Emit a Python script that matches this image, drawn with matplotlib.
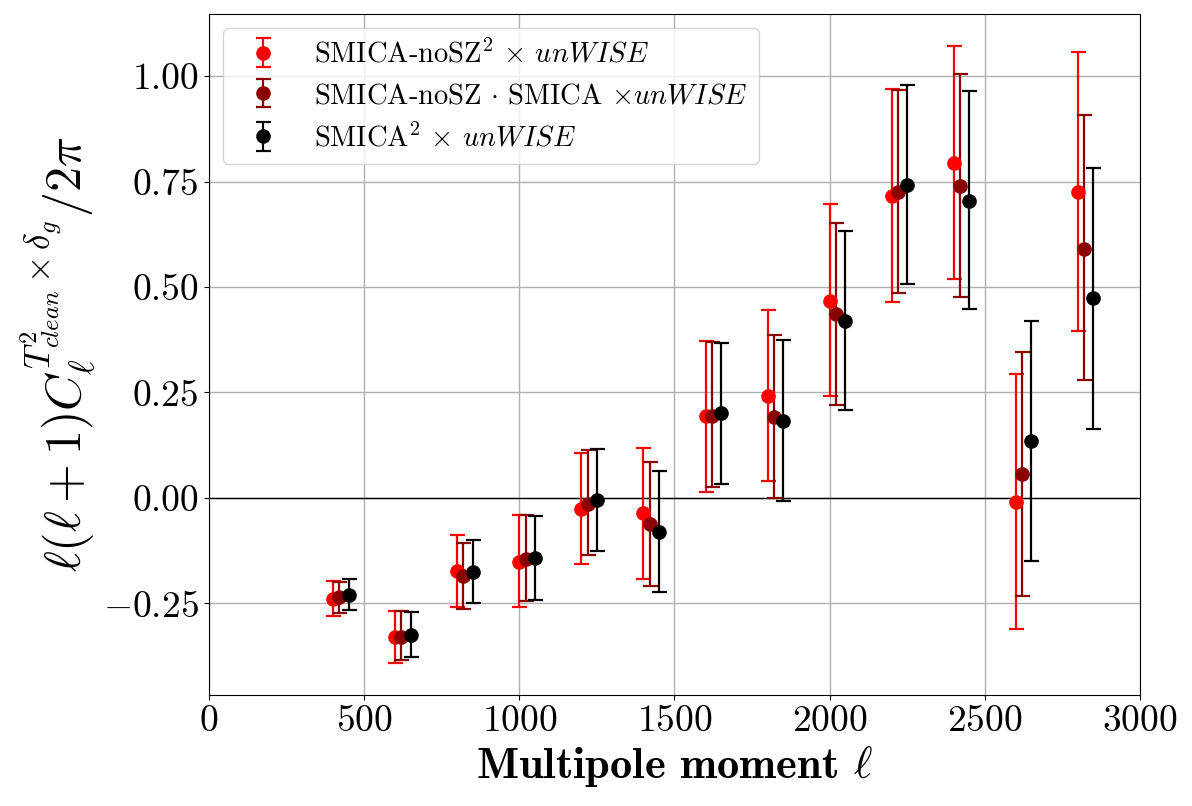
import numpy as np
import matplotlib
matplotlib.use('Agg')
import matplotlib.pyplot as plt

plt.rcParams['font.family'] = 'serif'
plt.rcParams['font.serif'] = ['cmr10']
plt.rcParams['mathtext.fontset'] = 'cm'
plt.rcParams['axes.formatter.use_mathtext'] = True

ells = np.array([400, 600, 800, 1000, 1200, 1400, 1600, 1800, 2000, 2200, 2400, 2600, 2800])

# SMICA-noSZ^2 x unWISE
nosz = np.array([-0.240, -0.330, -0.174, -0.151, -0.027, -0.036, 0.194, 0.242, 0.468, 0.716, 0.794, -0.010, 0.725])
nosz_hi = np.array([-0.196, -0.267, -0.088, -0.040, 0.107, 0.118, 0.372, 0.445, 0.697, 0.970, 1.072, 0.295, 1.058])
nosz_lo = np.array([-0.279, -0.391, -0.258, -0.258, -0.156, -0.192, 0.015, 0.041, 0.242, 0.465, 0.518, -0.310, 0.396])

# SMICA-noSZ . SMICA x unWISE
mixed = np.array([-0.235, -0.330, -0.185, -0.144, -0.014, -0.062, 0.195, 0.193, 0.436, 0.724, 0.739, 0.056, 0.591])
mixed_hi = np.array([-0.199, -0.267, -0.106, -0.040, 0.114, 0.085, 0.369, 0.386, 0.652, 0.967, 1.005, 0.346, 0.908])
mixed_lo = np.array([-0.272, -0.385, -0.263, -0.244, -0.135, -0.208, 0.026, 0.000, 0.221, 0.486, 0.477, -0.232, 0.280])

# SMICA^2 x unWISE
smica = np.array([-0.231, -0.325, -0.175, -0.142, -0.005, -0.081, 0.201, 0.182, 0.419, 0.742, 0.703, 0.134, 0.474])
smica_hi = np.array([-0.192, -0.270, -0.100, -0.043, 0.117, 0.064, 0.368, 0.374, 0.633, 0.979, 0.964, 0.419, 0.783])
smica_lo = np.array([-0.265, -0.378, -0.250, -0.242, -0.126, -0.224, 0.034, -0.006, 0.209, 0.507, 0.447, -0.149, 0.164])

fig, ax = plt.subplots(figsize=(11.92, 8.06), dpi=100)
fig.subplots_adjust(left=0.1753, right=0.9564, top=0.9826, bottom=0.1377)

ax.grid(True, color='#b0b0b0', linewidth=1.0)
ax.set_axisbelow(True)
ax.axhline(0, color='black', linewidth=1.0, zorder=1)

kw = dict(fmt='o', markersize=9.5, capsize=5.4, elinewidth=1.6, capthick=1.6)
ax.errorbar(ells, nosz, yerr=[nosz - nosz_lo, nosz_hi - nosz], color='#ff0000',
            label=r'SMICA-noSZ$^2$ $\times$ $unWISE$', **kw)
ax.errorbar(ells + 20, mixed, yerr=[mixed - mixed_lo, mixed_hi - mixed], color='#8b0000',
            label=r'SMICA-noSZ $\cdot$ SMICA $\times unWISE$', **kw)
ax.errorbar(ells + 50, smica, yerr=[smica - smica_lo, smica_hi - smica], color='black',
            label=r'SMICA$^2$ $\times$ $unWISE$', **kw)

ax.set_xlim(0, 3000)
ax.set_ylim(-0.467, 1.147)
ax.set_xticks([0, 500, 1000, 1500, 2000, 2500, 3000])
ax.set_yticks([-0.25, 0.0, 0.25, 0.5, 0.75, 1.0])
ax.set_yticklabels(['$-0.25$', '0.00', '0.25', '0.50', '0.75', '1.00'])
ax.tick_params(labelsize=27)

ax.set_xlabel(r'Multipole moment $\boldsymbol{\ell}$', fontsize=32, family='cmb10')
ax.set_ylabel(r'$\ell(\ell+1)C_\ell^{T^2_{clean}\times\delta_g}/2\pi$', fontsize=36)

ax.legend(loc='upper left', fontsize=20.5)

plt.savefig('out.png', dpi=100)
